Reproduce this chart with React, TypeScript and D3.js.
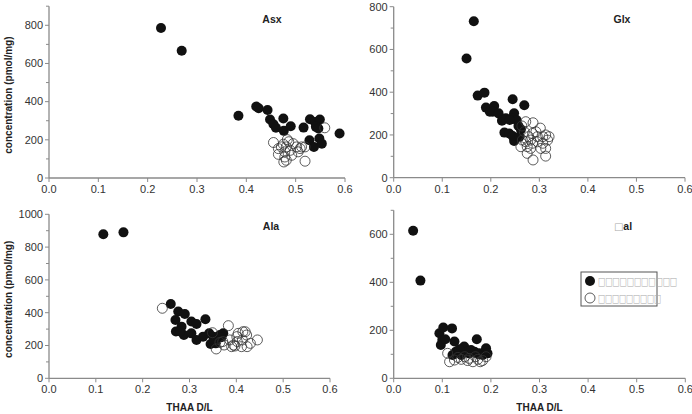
import React from "react";
import * as d3 from "d3";

// ---- data: [THAA D/L, concentration pmol/mg] ----
const asxFilled: [number, number][] = [
  [0.227, 786], [0.269, 667], [0.384, 326], [0.42, 375], [0.425, 365], [0.443, 356],
  [0.448, 306], [0.455, 282], [0.46, 263], [0.475, 312], [0.476, 247], [0.49, 271],
  [0.516, 264], [0.529, 308], [0.539, 294], [0.549, 306], [0.541, 268], [0.546, 259],
  [0.528, 198], [0.548, 207], [0.537, 163], [0.553, 180], [0.589, 233],
];
const asxOpen: [number, number][] = [
  [0.559, 263], [0.455, 186], [0.465, 154], [0.465, 124], [0.475, 177], [0.478, 137],
  [0.483, 201], [0.481, 163], [0.489, 145], [0.492, 119], [0.495, 180], [0.502, 163],
  [0.505, 137], [0.509, 154], [0.512, 163], [0.519, 163], [0.478, 110], [0.476, 84],
  [0.481, 93], [0.519, 88], [0.471, 163], [0.486, 190],
];
const glxFilled: [number, number][] = [
  [0.165, 732], [0.15, 558], [0.173, 384], [0.187, 398], [0.19, 328], [0.198, 309],
  [0.207, 335], [0.204, 309], [0.216, 301], [0.223, 267], [0.228, 211], [0.238, 207],
  [0.245, 367], [0.248, 301], [0.244, 278], [0.253, 270], [0.231, 278], [0.257, 242],
  [0.262, 226], [0.248, 172], [0.245, 195], [0.259, 192], [0.269, 339], [0.239, 270],
];
const glxOpen: [number, number][] = [
  [0.287, 257], [0.302, 232], [0.272, 262], [0.264, 242], [0.313, 200], [0.317, 176],
  [0.307, 192], [0.286, 207], [0.278, 192], [0.296, 168], [0.286, 161], [0.275, 145],
  [0.262, 145], [0.282, 137], [0.303, 137], [0.313, 137], [0.275, 114], [0.313, 101],
  [0.287, 83], [0.307, 161], [0.293, 215], [0.269, 215], [0.282, 176], [0.32, 192],
  [0.272, 168], [0.296, 192], [0.265, 176],
];
const alaFilled: [number, number][] = [
  [0.116, 878], [0.159, 890], [0.26, 453], [0.276, 407], [0.29, 392], [0.27, 356],
  [0.283, 315], [0.271, 285], [0.288, 264], [0.304, 346], [0.315, 331], [0.334, 360],
  [0.304, 274], [0.315, 234], [0.329, 254], [0.342, 274], [0.351, 254], [0.365, 264],
  [0.372, 274], [0.368, 250], [0.345, 209], [0.356, 213], [0.354, 234], [0.28, 285],
];
const alaOpen: [number, number][] = [
  [0.242, 427], [0.383, 321], [0.349, 278], [0.357, 179], [0.371, 224], [0.374, 203],
  [0.39, 193], [0.394, 203], [0.401, 254], [0.404, 274], [0.402, 224], [0.413, 234],
  [0.419, 284], [0.422, 264], [0.423, 193], [0.43, 213], [0.445, 234], [0.411, 193],
  [0.397, 197], [0.386, 234], [0.414, 284], [0.365, 219],
];
const valFilled: [number, number][] = [
  [0.04, 615], [0.055, 407], [0.094, 188], [0.102, 212], [0.12, 208], [0.1, 160],
  [0.097, 139], [0.106, 163], [0.125, 153], [0.171, 163], [0.19, 125], [0.128, 111],
  [0.145, 132], [0.121, 97], [0.139, 97], [0.155, 104], [0.166, 111], [0.176, 104],
  [0.183, 97], [0.151, 111], [0.135, 121], [0.159, 118], [0.173, 101], [0.193, 104],
];
const valOpen: [number, number][] = [
  [0.111, 104], [0.115, 69], [0.125, 76], [0.139, 79], [0.152, 74], [0.163, 69],
  [0.173, 79], [0.183, 74], [0.19, 90], [0.146, 90], [0.132, 87], [0.168, 90],
  [0.155, 83], [0.178, 69],
];

const panelTitles = ["Asx", "Glx", "Ala", "\u25A1al"];
const yMaxes = [900, 800, 1000, 700];
const yLabelMax = [800, 800, 1000, 600];
const xTicks = [0, 0.1, 0.2, 0.3, 0.4, 0.5, 0.6];
const legendLabels = ["\u25A1".repeat(11), "\u25A1".repeat(9)];
const yAxisTitle = "concentration (pmol/mg)";
const xAxisTitle = "THAA D/L";

const filledSets = [asxFilled, glxFilled, alaFilled, valFilled];
const openSets = [asxOpen, glxOpen, alaOpen, valOpen];

// ---- layout ----
const layouts = [
  { x0: 49, x1: 345, yb: 178, yt: 6.2, showYTitle: true, showXTitle: false, tx: 272, ty: 23 },
  { x0: 393.7, x1: 685, yb: 177.7, yt: 6.7, showYTitle: false, showXTitle: false, tx: 622, ty: 23 },
  { x0: 49, x1: 330, yb: 378.3, yt: 214.3, showYTitle: true, showXTitle: true, tx: 271, ty: 230 },
  { x0: 393.7, x1: 685.3, yb: 378.3, yt: 210.3, showYTitle: false, showXTitle: true, tx: 623, ty: 230 },
];

const FONT = "'Liberation Sans', Arial, sans-serif";
const AXIS = "#8a8a8a";
const R = 5;

function Panel({ i }: { i: number }) {
  const L = layouts[i];
  const x = d3.scaleLinear().domain([0, 0.6]).range([L.x0, L.x1]);
  const y = d3.scaleLinear().domain([0, yMaxes[i]]).range([L.yb, L.yt]);
  const majors = d3.range(0, yLabelMax[i] + 1, 200);
  const minors = d3.range(100, yMaxes[i] + 1, 200);
  return (
    <g>
      <line x1={L.x0} x2={L.x0} y1={L.yb} y2={L.yt} stroke={AXIS} strokeWidth={1.3} />
      <line x1={L.x0} x2={L.x1} y1={L.yb} y2={L.yb} stroke={AXIS} strokeWidth={1.3} />
      {majors.map((v) => (
        <g key={"ym" + v}>
          <line x1={L.x0 - 4} x2={L.x0} y1={y(v)} y2={y(v)} stroke={AXIS} strokeWidth={1} />
          <text x={L.x0 - 6} y={y(v)} dy="0.35em" textAnchor="end" fontSize={11} fill="#333" fontFamily={FONT}>
            {v}
          </text>
        </g>
      ))}
      {minors.map((v) => (
        <line key={"yn" + v} x1={L.x0 - 3} x2={L.x0} y1={y(v)} y2={y(v)} stroke={AXIS} strokeWidth={1} />
      ))}
      {xTicks.map((v) => (
        <g key={"x" + v}>
          <line x1={x(v)} x2={x(v)} y1={L.yb} y2={L.yb + 4} stroke={AXIS} strokeWidth={1} />
          <text x={x(v)} y={L.yb + 15} textAnchor="middle" fontSize={11} fill="#333" fontFamily={FONT}>
            {d3.format(".1f")(v)}
          </text>
        </g>
      ))}
      <text x={L.tx} y={L.ty} textAnchor="middle" fontSize={10.5} fontWeight="bold" fill="#222" fontFamily={FONT}>
        {i === 3 ? (
          <>
            <tspan fill="#aaa" fontWeight="normal" fontSize={10} fontFamily="DejaVu Sans">{"\u25A1"}</tspan>
            <tspan>al</tspan>
          </>
        ) : (
          panelTitles[i]
        )}
      </text>
      {L.showYTitle && (
        <text
          transform={`translate(12,${(L.yb + L.yt) / 2 + 3}) rotate(-90)`}
          textAnchor="middle" fontSize={10} fontWeight="bold" fill="#222" fontFamily={FONT}
        >
          {yAxisTitle}
        </text>
      )}
      {L.showXTitle && (
        <text x={(L.x0 + L.x1) / 2} y={411} textAnchor="middle" fontSize={10} fontWeight="bold" fill="#222" fontFamily={FONT}>
          {xAxisTitle}
        </text>
      )}
      {filledSets[i].map((d, k) => (
        <circle key={"f" + k} cx={x(d[0])} cy={y(d[1])} r={R} fill="#111" />
      ))}
      {openSets[i].map((d, k) => (
        <circle key={"o" + k} cx={x(d[0])} cy={y(d[1])} r={R} fill="none" stroke="#333" strokeWidth={0.8} />
      ))}
    </g>
  );
}

export default function App() {
  return (
    <svg width={692} height={414} style={{ position: "absolute", left: 0, top: 0, background: "#fff" }}>
      <rect width={692} height={414} fill="#fff" />
      {[0, 1, 2, 3].map((i) => (
        <Panel key={i} i={i} />
      ))}
      <rect x={581} y={272} width={76} height={34} fill="#fff" stroke="#555" strokeWidth={1} />
      <circle cx={590} cy={281} r={R} fill="#111" />
      <circle cx={590} cy={298} r={R} fill="none" stroke="#333" strokeWidth={0.8} />
      <text x={598} y={285} fontSize={11} fill="#aaa" fontFamily="DejaVu Sans" textLength={79} lengthAdjust="spacingAndGlyphs">
        {legendLabels[0]}
      </text>
      <text x={598} y={302} fontSize={11} fill="#aaa" fontFamily="DejaVu Sans" textLength={63} lengthAdjust="spacingAndGlyphs">
        {legendLabels[1]}
      </text>
    </svg>
  );
}
